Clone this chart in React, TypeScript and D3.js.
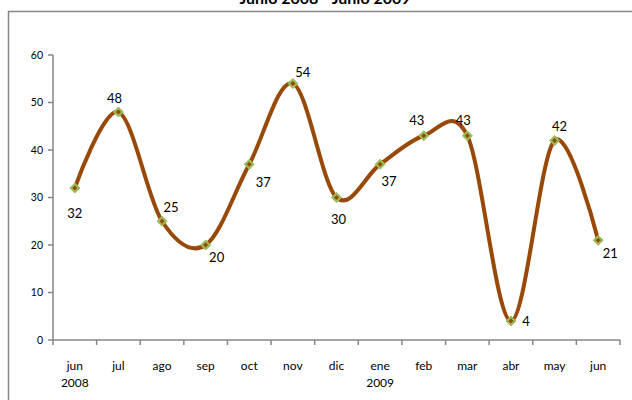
import React from "react";
import * as d3 from "d3";

const months = ["jun", "jul", "ago", "sep", "oct", "nov", "dic", "ene", "feb", "mar", "abr", "may", "jun"];
const years = ["2008", "", "", "", "", "", "", "2009", "", "", "", "", ""];
const values = [32, 48, 25, 20, 37, 54, 30, 37, 43, 43, 4, 42, 21];
const yTicks = [0, 10, 20, 30, 40, 50, 60];
// label offsets relative to the point (dx, dy)
const labelDx = [0, -4, 9, 11, 14, 10, 2, 9, -7, -4, 15, 5, 12];
const labelDy = [25, -14, -14, 12, 18, -11, 22, 17, -15, -15, 0, -14, 13];

export default function App() {
  const W = 632, H = 400;
  const x0 = 53, x1 = 620, yTop = 55, yBot = 340;
  const idx = months.map((_, i) => String(i));
  const x = d3.scaleBand<string>().domain(idx).range([x0, x1]);
  const y = d3.scaleLinear().domain([0, 60]).range([yBot, yTop]);
  const cx = (i: number) => (x(String(i)) as number) + x.bandwidth() / 2;
  const line = d3
    .line<number>()
    .x((_, i) => cx(i))
    .y((d) => y(d))
    .curve(d3.curveCardinal.tension(0));
  const path = line(values) || "";
  const font = "Lato, 'Open Sans', sans-serif";
  const axisColor = "#868686";
  const diamond = (px: number, py: number, r: number) =>
    `M${px},${py - r}L${px + r},${py}L${px},${py + r}L${px - r},${py}Z`;

  return (
    <svg
      width={W}
      height={H}
      style={{ position: "absolute", left: 0, top: 0, background: "#fff" }}
      fontFamily={font}
    >
      <rect x={0} y={0} width={W} height={H} fill="#fff" />
      <rect x={8.5} y={11.5} width={W} height={H} fill="none" stroke={axisColor} strokeWidth={1.5} />
      <text x={325} y={4} textAnchor="middle" fontSize={16} fontWeight="bold" fill="#000">
        Junio 2008 - Junio 2009
      </text>
      {/* y axis */}
      <line x1={x0} x2={x0} y1={yTop} y2={yBot} stroke={axisColor} strokeWidth={1.5} />
      {yTicks.map((t) => (
        <g key={t}>
          <line x1={x0 - 5} x2={x0} y1={y(t)} y2={y(t)} stroke={axisColor} strokeWidth={1.5} />
          <text x={43} y={y(t)} dy="0.35em" textAnchor="end" fontSize={10.5} fill="#000">
            {t}
          </text>
        </g>
      ))}
      {/* x axis */}
      <line x1={x0} x2={x1} y1={yBot} y2={yBot} stroke={axisColor} strokeWidth={1.5} />
      {d3.range(months.length + 1).map((i) => {
        const tx = x0 + i * x.step();
        return <line key={i} x1={tx} x2={tx} y1={yBot} y2={yBot + 5} stroke={axisColor} strokeWidth={1.5} />;
      })}
      {months.map((m, i) => (
        <g key={i}>
          <text x={cx(i)} y={370} textAnchor="middle" fontSize={12} fill="#000">
            {m}
          </text>
          {years[i] && (
            <text x={cx(i)} y={387} textAnchor="middle" fontSize={12} fill="#000">
              {years[i]}
            </text>
          )}
        </g>
      ))}
      {/* line */}
      <path d={path} fill="none" stroke="#984807" strokeWidth={4} strokeLinejoin="round" />
      {values.map((v, i) => (
        <g key={i}>
          <path d={diamond(cx(i), y(v), 5)} fill="#9BBB59" stroke="#9BBB59" strokeWidth={1} />
          <path d={diamond(cx(i), y(v), 2.5)} fill="#984807" />
        </g>
      ))}
      {values.map((v, i) => (
        <text
          key={i}
          x={cx(i) + labelDx[i]}
          y={y(v) + labelDy[i]}
          dy="0.35em"
          textAnchor="middle"
          fontSize={13}
          fill="#000"
        >
          {v}
        </text>
      ))}
    </svg>
  );
}
